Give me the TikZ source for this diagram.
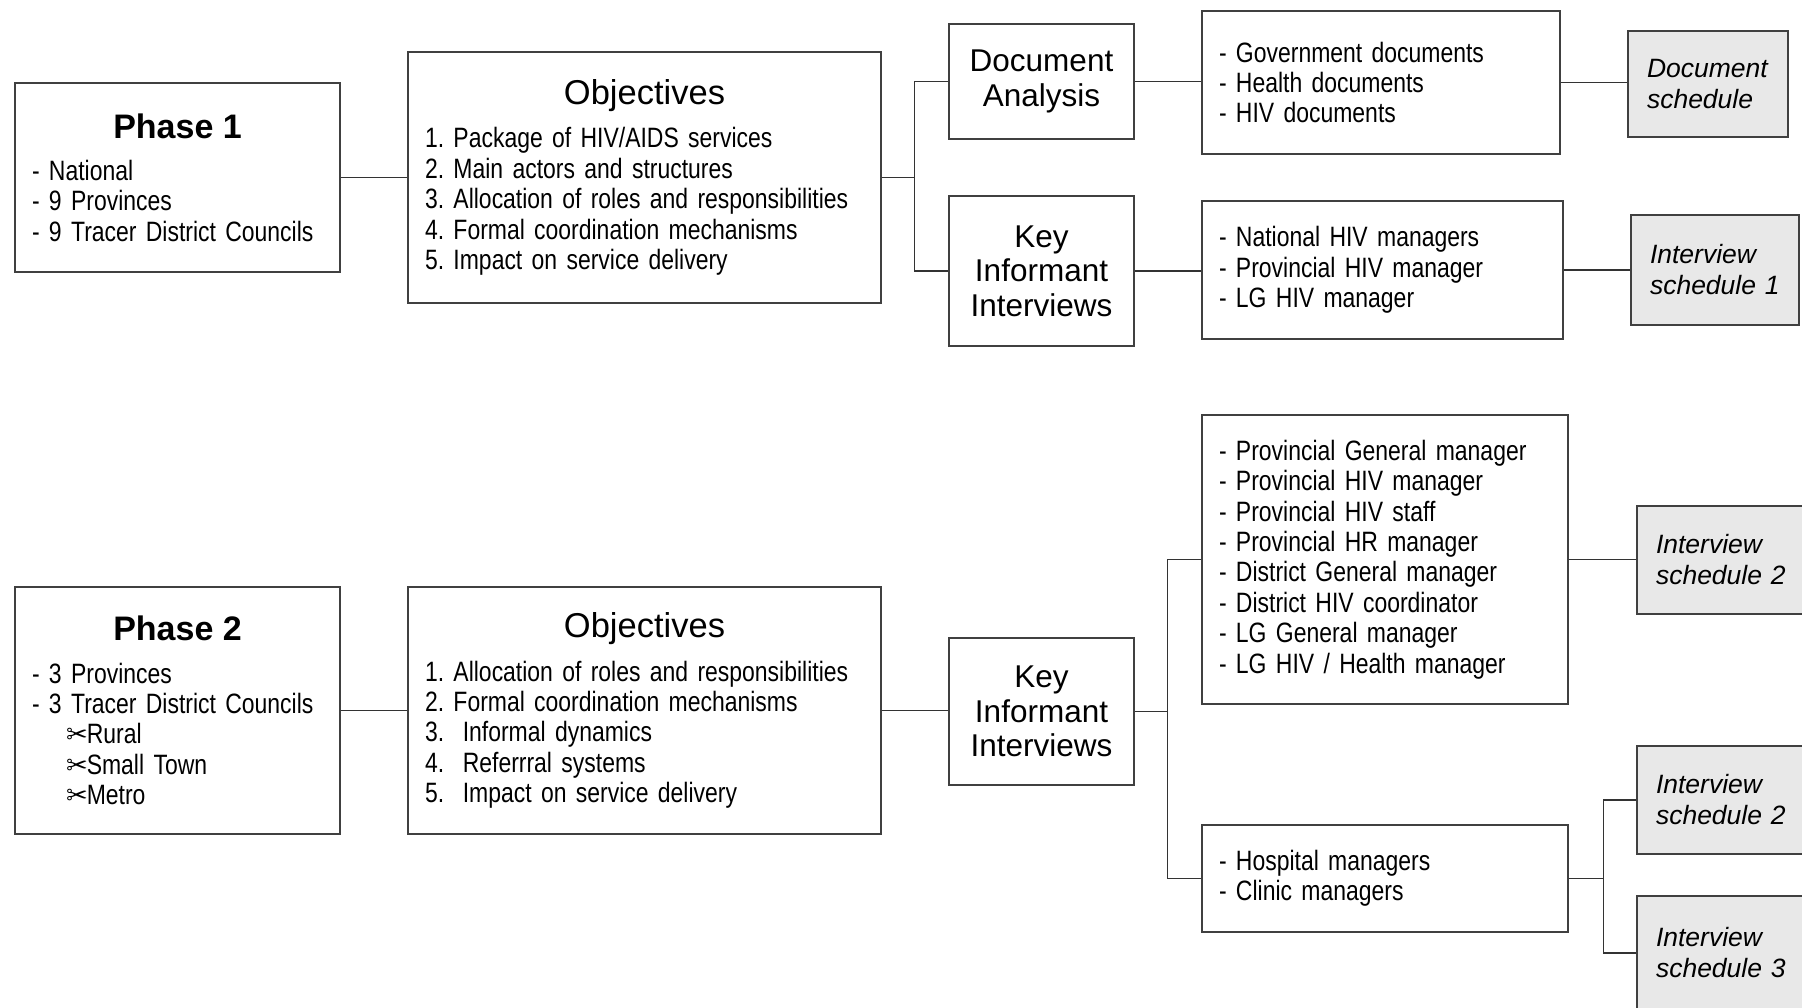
\documentclass[tikz,border=0pt]{standalone}
\usepackage{fontspec}
\setmainfont{Liberation Sans}
\newfontfamily\narrowfont[FakeStretch=0.82]{Liberation Sans}
\newfontfamily\dingfont{DejaVu Sans}
\frenchspacing

\newcommand\listsize{\narrowfont\fontsize{28}{30.4}\selectfont}
\newcommand\phasehead[1]{{\centering\rmfamily\bfseries\fontsize{34}{40}\selectfont #1\par}\vspace{12pt}}
\newcommand\objhead[1]{{\centering\rmfamily\fontsize{34.5}{40}\selectfont #1\par}\vspace{13pt}}
\newcommand\cutitem[1]{\hspace*{34pt}{\dingfont\fontsize{26}{30}\selectfont ✂}\hspace{-1pt}#1}

\begin{document}
\begin{tikzpicture}[x=1pt, y=-1pt,
    box/.style={draw=black!75, line width=1.4pt, inner xsep=17pt, inner ysep=0pt},
    listbox/.style={box, align=left, font=\listsize},
    headbox/.style={box, align=center, minimum width=185pt,
        font=\fontsize{31.5}{34.5}\selectfont},
    schedbox/.style={box, fill=black!9, align=left, inner xsep=19pt,
        font=\fontsize{26.5}{31}\selectfont\itshape},
    link/.style={draw=black!80, line width=1.3pt}]
    \useasboundingbox (0,0) rectangle (1802,1007);

    % phase 1
    \node[listbox, text width=291pt, minimum height=189pt] (phase1) at (177.5,177.5)
        {\phasehead{Phase 1}- National\\- 9 Provinces\\- 9 Tracer District Councils};
    \node[listbox, text width=439pt, minimum height=251pt] (obj1) at (644.5,177.5)
        {\objhead{Objectives}1. Package of HIV/AIDS services\\2. Main actors and structures\\3. Allocation of roles and responsibilities\\4. Formal coordination mechanisms\\5. Impact on service delivery};
    \node[headbox, minimum height=115pt] (doc1) at (1041.5,81.5) {Document\\Analysis};
    \node[headbox, minimum height=150pt] (kii1) at (1041.5,271) {Key\\Informant\\Interviews};
    \node[listbox, text width=324pt, minimum height=143pt] (docs1) at (1381,82.5)
        {- Government documents\\- Health documents\\- HIV documents};
    \node[listbox, text width=327pt, minimum height=138pt] (nat1) at (1382.5,270)
        {- National HIV managers\\- Provincial HIV manager\\- LG HIV manager};
    \node[schedbox, text width=122pt, minimum height=106pt] (dsched) at (1708,84) {Document\\schedule};
    \node[schedbox, text width=130pt, minimum height=110pt] (isched1) at (1715,270) {Interview\\schedule 1};

    \draw[link] (phase1) -- (obj1);
    \draw[link] (obj1.east) -- ++(33,0) coordinate (fork1);
    \draw[link] (doc1.west) -| (fork1) |- (kii1.west);
    \draw[link] (doc1.east) -- (doc1.east -| docs1.west);
    \draw[link] (docs1.east) -- (docs1.east -| dsched.west);
    \draw[link] (kii1.east) -- (kii1.east -| nat1.west);
    \draw[link] (nat1.east) -- (nat1.east -| isched1.west);

    % phase 2
    \node[listbox, text width=291pt, minimum height=247pt] (phase2) at (177.5,710.5)
        {\phasehead{Phase 2}- 3 Provinces\\- 3 Tracer District Councils\\\cutitem{Rural}\\\cutitem{Small Town}\\\cutitem{Metro}};
    \node[listbox, text width=439pt, minimum height=247pt] (obj2) at (644.5,710.5)
        {\objhead{Objectives}1. Allocation of roles and responsibilities\\2. Formal coordination mechanisms\\3.\ \ Informal dynamics\\4.\ \ Referrral systems\\5.\ \ Impact on service delivery};
    \node[headbox, minimum height=147pt] (kii2) at (1041.5,711.5) {Key\\Informant\\Interviews};
    \node[listbox, text width=332pt, minimum height=289pt] (prov2) at (1385,559.5)
        {- Provincial General manager\\- Provincial HIV manager\\- Provincial HIV staff\\- Provincial HR manager\\- District General manager\\- District HIV coordinator\\- LG General manager\\- LG HIV / Health manager};
    \node[listbox, text width=332pt, minimum height=107pt] (hosp2) at (1385,878.5)
        {- Hospital managers\\- Clinic managers};
    \node[schedbox, text width=132pt, minimum height=108pt] (isched2) at (1722,560) {Interview\\schedule 2};
    \node[schedbox, text width=132pt, minimum height=108pt] (isched2b) at (1722,800) {Interview\\schedule 2};
    \node[schedbox, text width=132pt, minimum height=114pt] (isched3) at (1722,953) {Interview\\schedule 3};

    \draw[link] (phase2) -- (obj2);
    \draw[link] (obj2.east) -- (obj2.east -| kii2.west);
    \draw[link] (kii2.east) -- ++(33,0) coordinate (fork2);
    \draw[link] (prov2.west) -| (fork2) |- (hosp2.west);
    \draw[link] (prov2.east) -- (prov2.east -| isched2.west);
    \draw[link] (hosp2.east) -- ++(35,0) coordinate (fork3);
    \draw[link] (isched2b.west) -| (fork3) |- (isched3.west);
\end{tikzpicture}
\end{document}
